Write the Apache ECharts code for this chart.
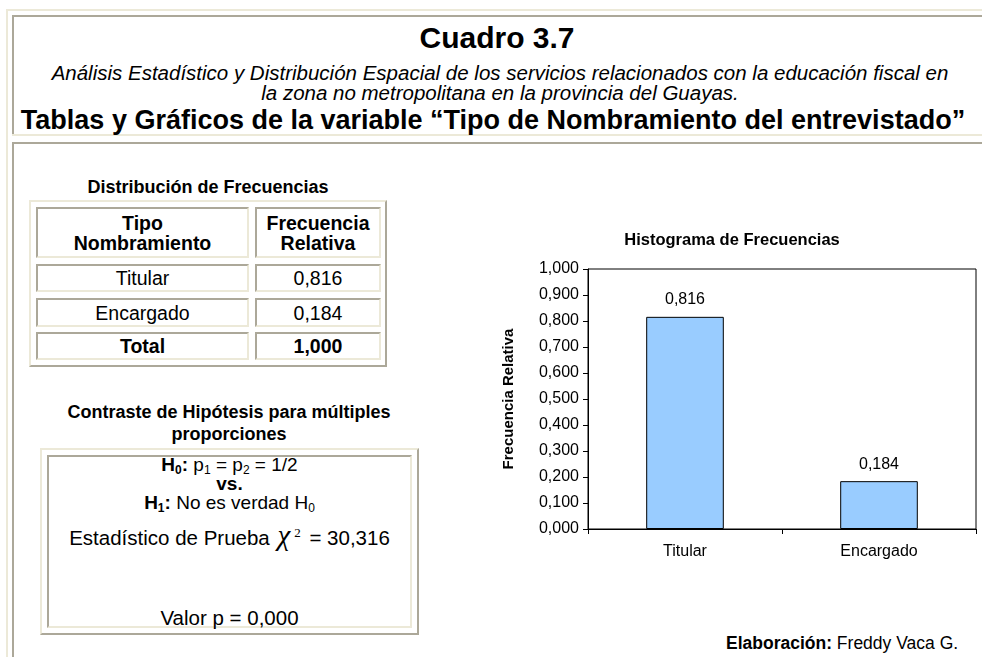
<!DOCTYPE html>
<html>
<head>
<meta charset="utf-8">
<script src="https://cdn.jsdelivr.net/npm/echarts@6/dist/echarts.min.js"></script>
<style>
  html, body { margin: 0; padding: 0; background: #fff; overflow: hidden; }
  body { width: 982px; height: 657px; position: relative; font-family: "Liberation Sans", Arial, sans-serif; color: #000; }
  .abs { position: absolute; }
  .lt { position: absolute; background: #ECE9D8; }
  .dk { position: absolute; background: #ACA899; }
  .ctr { position: absolute; text-align: center; white-space: nowrap; }
  /* marco tipo tabla: exterior claro arriba/izq, oscuro abajo/der */
  .outset { position: absolute; box-sizing: border-box; border: 2px solid; border-color: #ECE9D8 #ACA899 #ACA899 #ECE9D8; }
  .inset { position: absolute; box-sizing: border-box; border: 2px solid; border-color: #ACA899 #ECE9D8 #ECE9D8 #ACA899;
           display: flex; align-items: center; justify-content: center; text-align: center; font-size: 19.5px; line-height: 20px; }
  sub { font-size: 12px; vertical-align: -3px; line-height: 0; }
</style>
</head>
<body>
  <!-- marco general -->
  <div class="lt" style="left:6px;top:9px;width:1000px;height:2px"></div>
  <div class="lt" style="left:6px;top:9px;width:2px;height:700px"></div>
  <div class="dk" style="left:12px;top:15px;width:1000px;height:2px"></div>
  <div class="dk" style="left:12px;top:15px;width:2px;height:121px"></div>
  <div class="lt" style="left:12px;top:134px;width:1000px;height:2px"></div>
  <div class="dk" style="left:12px;top:142px;width:1000px;height:2px"></div>
  <div class="dk" style="left:12px;top:142px;width:2px;height:600px"></div>

  <!-- encabezado -->
  <div class="ctr" style="left:0;width:994px;top:21px;font-size:30px;font-weight:bold;line-height:34px">Cuadro 3.7</div>
  <div class="ctr" style="left:0;width:1000px;top:63px;font-size:20.5px;font-style:italic;line-height:20px">Análisis Estadístico y Distribución Espacial de los servicios relacionados con la educación fiscal en<br>la zona no metropolitana en la provincia del Guayas.</div>
  <div class="ctr" style="left:0;width:986px;top:106px;font-size:27px;font-weight:bold;line-height:28px">Tablas y Gráficos de la variable “Tipo de Nombramiento del entrevistado”</div>

  <!-- tabla de distribucion -->
  <div class="ctr" style="left:29px;width:358px;top:176px;font-size:18px;font-weight:bold;line-height:22px">Distribución de Frecuencias</div>
  <div id="tabla"></div>

  <!-- contraste -->
  <div class="ctr" style="left:29px;width:400px;top:401px;font-size:18px;font-weight:bold;line-height:22px">Contraste de Hipótesis para múltiples<br>proporciones</div>
  <div class="outset" style="left:40px;top:448px;width:379px;height:187px"></div>
  <div class="inset" style="left:47px;top:455px;width:365px;height:173px"></div>
  <div class="ctr" style="left:47px;width:365px;top:455px;font-size:19px;line-height:19px">
    <b>H<sub>0</sub>:</b> p<sub>1</sub> = p<sub>2</sub> = 1/2<br>
    <b>vs.</b><br>
    <b>H<sub>1</sub>:</b> No es verdad H<sub>0</sub>
  </div>
  <div class="ctr" style="left:47px;width:365px;top:521px;font-size:20.5px;line-height:24px">Estadístico de Prueba <span style="font-family:'Liberation Serif',serif;font-style:italic;font-size:29px;margin-left:2px">χ</span><sup style="font-family:'Liberation Serif',serif;font-size:13px;margin-left:4px;margin-right:3px">2</sup> = <span id="chi"></span></div>
  <div class="ctr" style="left:47px;width:365px;top:607px;font-size:20.5px;line-height:22px">Valor p = <span id="pval"></span></div>

  <!-- histograma -->
  <div id="chart" class="abs" style="left:460px;top:215px;width:544px;height:370px"></div>

  <div class="abs" style="left:726px;top:633px;font-size:17.5px;line-height:20px;white-space:nowrap"><b>Elaboración:</b> Freddy Vaca G.</div>

<script>
// datos
var tipos = ['Titular', 'Encargado'];
var frecuencias = [0.816, 0.184];
var totalFrec = 1.000;
var chiCuadrado = 30.316;
var valorP = 0.000;

function coma(v) {
  return v.toFixed(3).replace('.', ',');
}

// tabla de frecuencias
var filas = [
  { top: 207, h: 51, a: 'Tipo<br>Nombramiento', b: 'Frecuencia<br>Relativa', bold: true },
  { top: 264, h: 28, a: tipos[0], b: coma(frecuencias[0]) },
  { top: 298, h: 29, a: tipos[1], b: coma(frecuencias[1]) },
  { top: 332, h: 28, a: 'Total', b: coma(totalFrec), bold: true }
];
var html = '<div class="outset" style="left:29px;top:200px;width:358px;height:167px"></div>';
filas.forEach(function (f) {
  var w = f.bold ? 'font-weight:bold;' : '';
  html += '<div class="inset" style="' + w + 'left:36px;top:' + f.top + 'px;width:213px;height:' + f.h + 'px">' + f.a + '</div>';
  html += '<div class="inset" style="' + w + 'left:255px;top:' + f.top + 'px;width:126px;height:' + f.h + 'px">' + f.b + '</div>';
});
document.getElementById('tabla').innerHTML = html;
document.getElementById('chi').textContent = coma(chiCuadrado);
document.getElementById('pval').textContent = coma(valorP);

var myChart = echarts.init(document.getElementById('chart'));
var option = {
  animation: false,
  title: {
    text: 'Histograma de Frecuencias',
    left: 'center',
    top: 12,
    textStyle: { fontFamily: 'Liberation Sans', fontSize: 16.5, fontWeight: 'bold', color: '#000' }
  },
  grid: {
    left: 128,
    right: 28,
    top: 54,
    bottom: 56,
    show: true,
    borderColor: '#000',
    borderWidth: 1
  },
  xAxis: {
    type: 'category',
    data: tipos,
    axisLine: { lineStyle: { color: '#000', width: 1 } },
    axisTick: { show: true, length: 5, lineStyle: { color: '#000' } },
    axisLabel: { color: '#000', fontSize: 16, fontFamily: 'Liberation Sans', margin: 15 }
  },
  yAxis: {
    type: 'value',
    min: 0,
    max: 1,
    interval: 0.1,
    name: 'Frecuencia Relativa',
    nameLocation: 'middle',
    nameRotate: 90,
    nameGap: 72,
    nameTextStyle: { color: '#000', fontSize: 15, fontWeight: 'bold', fontFamily: 'Liberation Sans' },
    axisLine: { show: true, lineStyle: { color: '#000', width: 1 } },
    axisTick: { show: true, length: 5, lineStyle: { color: '#000' } },
    axisLabel: { color: '#000', fontSize: 16, fontFamily: 'Liberation Sans', margin: 9, formatter: coma },
    splitLine: { show: false }
  },
  series: [{
    type: 'bar',
    data: frecuencias,
    barWidth: '40%',
    itemStyle: { color: '#99CCFF', borderColor: '#000', borderWidth: 1 },
    label: {
      show: true,
      position: 'top',
      distance: 9,
      color: '#000',
      fontSize: 16,
      fontFamily: 'Liberation Sans',
      formatter: function (p) { return coma(p.value); }
    }
  }]
};
myChart.setOption(option);
</script>
</body>
</html>
